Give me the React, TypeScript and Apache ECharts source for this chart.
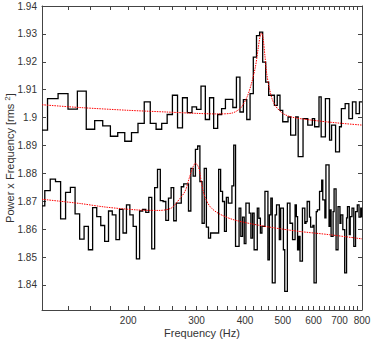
import React, { useEffect, useRef } from "react";
import * as echarts from "echarts";

// ---- axis ranges ----
const X_MIN = 120;
const X_MAX = 800;
const Y_MIN = 1.831;
const Y_MAX = 1.94;

// ---- tick labels ----
const xLabelFreqs = [200, 300, 400, 500, 600, 700, 800];
const xTickStep = 20;
const yTickValues = [1.84, 1.85, 1.86, 1.87, 1.88, 1.89, 1.9, 1.91, 1.92, 1.93, 1.94];

// ---- upper histogram (8 Hz bins, centres from 120 Hz) ----
const UPPER_START = 120;
const UPPER_WIDTH = 8;
const upperValues = [
  1.8955, 1.9068, 1.9086, 1.903, 1.9095, 1.8958, 1.8989, 1.897, 1.8933, 1.8946,
  1.8915, 1.8946, 1.8979, 1.9056, 1.8979, 1.8958, 1.8979, 1.9011, 1.908, 1.8963,
  1.9071, 1.9018, 1.9038, 1.9029, 1.9113, 1.8993, 1.9071, 1.8961, 1.9011, 1.9032,
  1.9065, 1.9065, 1.9036, 1.9145, 1.902, 1.9064, 1.8993, 1.9086, 1.9217, 1.9294,
  1.9306, 1.9199, 1.9127, 1.908, 1.908, 1.9044, 1.908, 1.9026, 1.8985, 1.8985,
  1.9002, 1.8937, 1.8937, 1.9002, 1.886, 1.886, 1.8996, 1.8996, 1.8973, 1.8973,
  1.8996, 1.8967, 1.8967, 1.9074, 1.8931, 1.8931, 1.9068, 1.9068, 1.8919, 1.8973,
  1.8973, 1.8877, 1.8877, 1.8967, 1.9032, 1.9032, 1.905, 1.905, 1.8996, 1.8996,
  1.9056, 1.9056, 1.9014, 1.9014, 1.9056, 1.9056,
];

// ---- lower histogram (4 Hz bins, centres from 120 Hz) ----
const LOWER_START = 120;
const LOWER_WIDTH = 4;
const lowerValues = [
  // 120 - 376 Hz
  1.8683, 1.8738, 1.8779, 1.877, 1.8637, 1.8732, 1.875, 1.8655, 1.8564, 1.861,
  1.8526, 1.8677, 1.8645, 1.8613, 1.8556, 1.8665, 1.8651, 1.8562, 1.8671, 1.8586,
  1.8687, 1.8651, 1.861, 1.8493, 1.8665, 1.8671, 1.866, 1.8714, 1.8529, 1.8749,
  1.8814, 1.8702, 1.8699, 1.8631, 1.8711, 1.8749, 1.863, 1.8693, 1.8693, 1.8752,
  1.8762, 1.8762, 1.8665, 1.8818, 1.879, 1.8886, 1.8898, 1.877, 1.8621, 1.8818,
  1.8607, 1.8568, 1.8586, 1.8586, 1.8586, 1.8586, 1.8814, 1.8735, 1.8699, 1.8592,
  1.8714, 1.8693, 1.8693, 1.8755, 1.8901,
  // 380 - 544 Hz
  1.8538, 1.8538, 1.8675, 1.8574, 1.8643, 1.8548, 1.8693, 1.8693, 1.8657, 1.8568,
  1.8657, 1.8526, 1.8526, 1.8675, 1.8639, 1.8586, 1.861, 1.861, 1.8735, 1.8735,
  1.849, 1.8651, 1.8711, 1.8407, 1.8407, 1.8651, 1.8687, 1.8687, 1.8562, 1.8675,
  1.8675, 1.8526, 1.8377, 1.8377, 1.8693, 1.8693, 1.8621, 1.8621, 1.8562, 1.8562,
  1.8687, 1.8645,
  // 548 - 800 Hz
  1.8526, 1.8574, 1.8485, 1.8485, 1.8675, 1.8675, 1.8621, 1.8627, 1.8699, 1.8699,
  1.8643, 1.8607, 1.8607, 1.8613, 1.8407, 1.8407, 1.8663, 1.8669, 1.8669, 1.8735,
  1.8735, 1.8776, 1.8705, 1.8705, 1.864, 1.883, 1.883, 1.883, 1.861, 1.8669,
  1.8574, 1.8574, 1.8663, 1.8744, 1.8744, 1.8526, 1.8526, 1.8681, 1.8681, 1.8621,
  1.8651, 1.8651, 1.8598, 1.8598, 1.8443, 1.8443, 1.864, 1.8681, 1.8681, 1.858,
  1.8645, 1.8645, 1.8675, 1.8675, 1.8538, 1.8538, 1.8663, 1.8663, 1.8687, 1.8687,
  1.8643, 1.8643, 1.8675, 1.8643,
];

// ---- fitted curves ----
const upperFitFreq = [120, 150, 200, 250, 300, 340, 370, 390, 405, 415, 425, 432, 437, 441, 445, 450, 455, 462, 470, 480, 500, 530, 600, 700, 800];
const upperFitValues = [1.9046, 1.9036, 1.9026, 1.902, 1.9015, 1.9013, 1.9016, 1.9035, 1.9075, 1.912, 1.918, 1.9245, 1.929, 1.9303, 1.9285, 1.922, 1.9155, 1.9105, 1.9065, 1.904, 1.9015, 1.9001, 1.899, 1.898, 1.8973];
const lowerFitFreq = [120, 150, 175, 210, 240, 258, 268, 280, 288, 294, 298, 302, 305, 309, 315, 325, 341, 375, 450, 550, 660, 800];
const lowerFitValues = [1.8707, 1.8692, 1.8679, 1.8669, 1.8667, 1.8675, 1.8699, 1.8735, 1.8788, 1.8824, 1.8836, 1.8828, 1.8812, 1.8764, 1.8717, 1.8681, 1.8657, 1.8633, 1.861, 1.8592, 1.858, 1.8565];

const lg = (f: number) => Math.log10(f);

function stepPoints(start: number, width: number, values: number[]) {
  const pts: number[][] = [];
  values.forEach((v, i) => {
    const c = start + i * width;
    const lo = Math.max(c - width / 2, X_MIN);
    const hi = Math.min(c + width / 2, X_MAX);
    pts.push([lg(lo), v], [lg(hi), v]);
  });
  return pts;
}

function curvePoints(freqs: number[], values: number[]) {
  return freqs.map((f, i) => [lg(f), values[i]]);
}

export default function App() {
  const ref = useRef<HTMLDivElement>(null);
  useEffect(() => {
    if (!ref.current) return;
    const chart = echarts.init(ref.current, undefined, { renderer: "svg" });
    const xTicks: number[] = [];
    for (let f = X_MIN + xTickStep; f <= X_MAX; f += xTickStep) xTicks.push(lg(f));
    const xLabels = xLabelFreqs.map(lg);
    const axisColor = "#444";
    const textColor = "#333";
    const font = "Liberation Sans, Arial, Helvetica, sans-serif";
    const commonX = {
      type: "value",
      min: lg(X_MIN),
      max: lg(X_MAX),
      splitLine: { show: false },
      axisLine: { show: true, onZero: false, lineStyle: { color: axisColor, width: 1 } },
      axisTick: { show: true, inside: true, length: 4, customValues: xTicks, lineStyle: { color: axisColor } },
    };
    const commonY = {
      type: "value",
      min: Y_MIN,
      max: Y_MAX,
      splitLine: { show: false },
      axisLine: { show: true, onZero: false, lineStyle: { color: axisColor, width: 1 } },
      axisTick: { show: true, inside: true, length: 4, customValues: yTickValues, lineStyle: { color: axisColor } },
    };
    chart.setOption({
      animation: false,
      backgroundColor: "#fff",
      grid: { left: 42, right: 12, top: 6, bottom: 35, containLabel: false, outerBoundsMode: "none" },
      xAxis: [
        {
          ...commonX,
          position: "bottom",
          axisLabel: {
            customValues: xLabels,
            formatter: (v: number) => String(Math.round(Math.pow(10, v))),
            fontSize: 10,
            color: textColor,
            fontFamily: font,
            margin: 5,
          },
          name: "Frequency (Hz)",
          nameLocation: "middle",
          nameGap: 17,
          nameMoveOverlap: false,
          nameTextStyle: { fontSize: 11, color: textColor, fontFamily: font },
        },
        { ...commonX, position: "top", axisLabel: { show: false } },
      ],
      yAxis: [
        {
          ...commonY,
          position: "left",
          axisLabel: {
            customValues: yTickValues,
            formatter: (v: number) => String(Math.round(v * 100) / 100),
            fontSize: 10,
            color: textColor,
            fontFamily: font,
            margin: 5,
          },
          name: "{a|Power x Frequency [rms }{b|2}{a|]}",
          nameLocation: "middle",
          nameRotate: 90,
          nameGap: 25,
          nameMoveOverlap: false,
          nameTextStyle: {
            color: textColor,
            fontFamily: font,
            rich: {
              a: { fontSize: 11, color: textColor, fontFamily: font, lineHeight: 14 },
              b: { fontSize: 8, color: textColor, fontFamily: font, verticalAlign: "top", lineHeight: 10 },
            },
          },
        },
        { ...commonY, position: "right", axisLabel: { show: false } },
      ],
      series: [
        {
          type: "line",
          data: stepPoints(UPPER_START, UPPER_WIDTH, upperValues),
          symbol: "none",
          lineStyle: { color: "#000", width: 1.3, join: "miter" },
          z: 2,
        },
        {
          type: "line",
          data: stepPoints(LOWER_START, LOWER_WIDTH, lowerValues),
          symbol: "none",
          lineStyle: { color: "#000", width: 1.3, join: "miter" },
          z: 2,
        },
        {
          type: "line",
          data: curvePoints(upperFitFreq, upperFitValues),
          symbol: "none",
          smooth: 0.3,
          lineStyle: { color: "#f00", width: 1, type: [1.5, 1] },
          z: 3,
        },
        {
          type: "line",
          data: curvePoints(lowerFitFreq, lowerFitValues),
          symbol: "none",
          smooth: 0.3,
          lineStyle: { color: "#f00", width: 1, type: [1.5, 1] },
          z: 3,
        },
      ],
    });
    return () => chart.dispose();
  }, []);
  return (
    <div
      ref={ref}
      style={{ position: "fixed", left: 0, top: 0, width: 374, height: 345, background: "#fff" }}
    />
  );
}
